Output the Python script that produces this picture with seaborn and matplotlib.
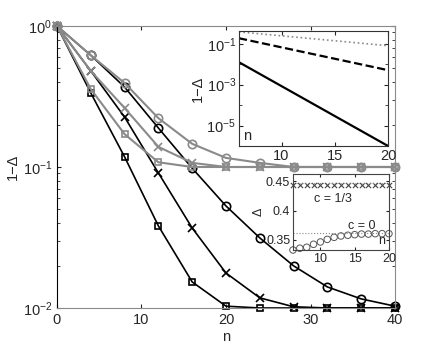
import numpy as np
import pandas as pd
import seaborn as sns
import matplotlib
matplotlib.use("Agg")
import matplotlib.pyplot as plt
from matplotlib.ticker import LogLocator, NullFormatter

# Style first, then fonts (set_style resets font.family)
sns.set_style("ticks")
plt.rcParams["font.family"] = ["Liberation Sans", "DejaVu Sans"]
plt.rcParams["mathtext.default"] = "regular"
plt.rcParams["xtick.direction"] = "in"
plt.rcParams["ytick.direction"] = "in"

# Main panel data
n = [0, 4, 8, 12, 16, 20, 24, 28, 32, 36, 40]
black_circ = [1, 0.62, 0.369, 0.189, 0.098, 0.0529, 0.0314, 0.0199, 0.0141, 0.0116, 0.0103]
black_x = [1, 0.48, 0.226, 0.0907, 0.0369, 0.0177, 0.0118, 0.0102, 0.01, 0.01, 0.01]
black_sq = [1, 0.335, 0.118, 0.0382, 0.0153, 0.0103, 0.01, 0.01, 0.01, 0.01, 0.01]
gray_circ = [1, 0.62, 0.394, 0.222, 0.146, 0.116, 0.107, 0.1, 0.1, 0.1, 0.1]
gray_x = [1, 0.48, 0.262, 0.139, 0.107, 0.1, 0.1, 0.1, 0.1, 0.1, 0.1]
gray_sq = [1, 0.357, 0.171, 0.108, 0.1, 0.1, 0.1, 0.1, 0.1, 0.1, 0.1]

# Upper inset: straight lines on log axis
n_in1 = [6, 20]
dotted_in1 = [0.38, 0.08]
dashed_in1 = [0.186, 0.0051]
solid_in1 = [0.0125, 1e-6]

# Lower inset: Delta vs n
n_in2 = list(range(6, 21))
delta_c0 = [0.333, 0.336, 0.3376, 0.3427, 0.3466, 0.351, 0.3545, 0.3568,
            0.358, 0.359, 0.360, 0.360, 0.3607, 0.3607, 0.3607]
delta_c13 = [0.4425, 0.4425, 0.4425, 0.4425, 0.4425, 0.4425, 0.4425, 0.4425,
             0.4425, 0.4425, 0.4425, 0.4425, 0.4425, 0.4425, 0.4425]
limit_c0 = 0.361
limit_c13 = 0.447

GRAY = "#8a8a8a"
DARK = "#444444"

fig = plt.figure(figsize=(4.36, 3.49), dpi=100)
ax = fig.add_axes([0.1307, 0.1175, 0.7753, 0.808])

series = [
    (black_circ, "black", "o"), (black_x, "black", "x"), (black_sq, "black", "s"),
    (gray_circ, GRAY, "o"), (gray_x, GRAY, "x"), (gray_sq, GRAY, "s"),
]
for vals, col, mk in series:
    lw = 1.2 if col == "black" else 1.5
    sns.lineplot(x=n, y=vals, ax=ax, color=col, lw=lw, marker=mk,
                 markersize=6 if mk != "s" else 5, markerfacecolor="none",
                 markeredgecolor=col, markeredgewidth=1.2, clip_on=False)

ax.set_yscale("log")
ax.set_xlim(0, 40)
ax.set_ylim(0.01, 1)
ax.set_xticks([0, 10, 20, 30, 40])
ax.yaxis.set_minor_locator(LogLocator(base=10, subs=np.arange(2, 10)))
ax.yaxis.set_minor_formatter(NullFormatter())
ax.tick_params(which="both", top=True, right=True, labelsize=10.5, length=3)
ax.tick_params(which="minor", length=2)
for s in ["top", "right", "bottom"]:
    ax.spines[s].set_color(GRAY)
ax.spines["left"].set_color("black")
ax.set_xlabel("n", fontsize=10.5, labelpad=2)
ax.set_ylabel("1−Δ", fontsize=10.5, labelpad=2)

# Upper inset
ax1 = fig.add_axes([0.548, 0.5817, 0.342, 0.3295])
sns.lineplot(x=n_in1, y=dotted_in1, ax=ax1, color=GRAY, lw=1.2, linestyle=":")
sns.lineplot(x=n_in1, y=dashed_in1, ax=ax1, color="black", lw=1.6, linestyle="--")
sns.lineplot(x=n_in1, y=solid_in1, ax=ax1, color="black", lw=1.6)
ax1.set_yscale("log")
ax1.set_xlim(6, 20)
ax1.set_ylim(1e-6, 0.42)
ax1.set_xticks([10, 15, 20])
ax1.set_yticks([1e-1, 1e-3, 1e-5])
ax1.yaxis.set_minor_locator(LogLocator(base=10, subs=[1.0], numticks=20))
ax1.yaxis.set_minor_formatter(NullFormatter())
ax1.tick_params(which="both", right=True, top=True, labelsize=10.5, length=3, pad=2)
ax1.tick_params(which="minor", length=2)
ax1.set_ylabel("1−Δ", fontsize=10.5, labelpad=1)
ax1.set_xlabel("")
ax1.text(0.03, 0.03, "n", transform=ax1.transAxes, fontsize=10.5, ha="left", va="bottom")
for s in ax1.spines.values():
    s.set_color("#333333")

# Lower inset
ax2 = fig.add_axes([0.672, 0.2837, 0.220, 0.2177])
ax2.axhline(limit_c13, color=GRAY, lw=0.8, linestyle=":")
ax2.axhline(limit_c0, color=GRAY, lw=0.8, linestyle=":")
sns.scatterplot(x=n_in2, y=delta_c13, ax=ax2, color=DARK, marker="x",
                s=14, linewidth=0.8, clip_on=False)
sns.scatterplot(x=n_in2, y=delta_c0, ax=ax2, marker="o", s=22,
                facecolor="none", edgecolor="#555555", linewidth=0.7, clip_on=False)
ax2.set_xlim(6, 20)
ax2.set_ylim(0.333, 0.462)
ax2.set_xticks([10, 15, 20])
ax2.set_yticks([0.35, 0.4, 0.45])
ax2.set_yticklabels(["0.35", "0.4", "0.45"])
ax2.tick_params(right=True, top=True, labelsize=9, length=2.5, pad=2)
ax2.set_ylabel("Δ", fontsize=9, labelpad=1)
ax2.set_xlabel("")
ax2.text(0.42, 0.63, "c = 1/3", transform=ax2.transAxes, fontsize=9, ha="center")
ax2.text(0.72, 0.27, "c = 0", transform=ax2.transAxes, fontsize=9, ha="center")
ax2.text(0.96, 0.04, "n", transform=ax2.transAxes, fontsize=9, ha="right", va="bottom")
for s in ax2.spines.values():
    s.set_color(DARK)

fig.savefig("out.png", dpi=100)
